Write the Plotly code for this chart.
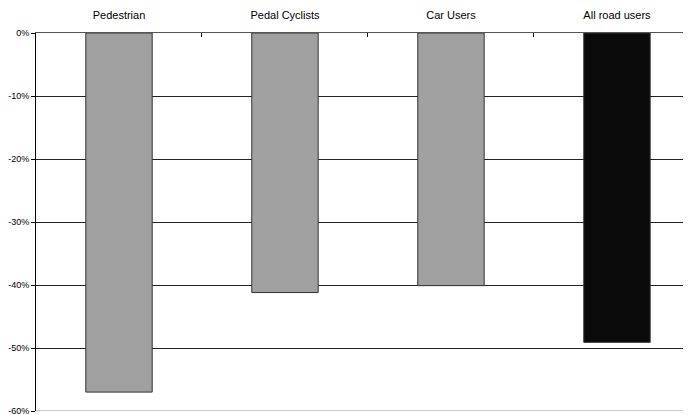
import plotly.graph_objects as go

categories = ["Pedestrian", "Pedal Cyclists", "Car Users", "All road users"]
values = [-57, -41.2, -40.1, -49.1]
bar_colors = ["#a0a0a0", "#a0a0a0", "#a0a0a0", "#0a0a0a"]
tick_vals = [0, -10, -20, -30, -40, -50, -60]
tick_text = ["0%", "-10%", "-20%", "-30%", "-40%", "-50%", "-60%"]

fig = go.Figure()
fig.add_trace(go.Bar(
    x=categories, y=values, width=0.4,
    marker=dict(color=bar_colors, line=dict(color="#333333", width=1)),
    cliponaxis=False,
))

# bottom gridline at the lower edge of the axis
fig.add_hline(y=tick_vals[-1], line=dict(color="#999999", width=1), layer="below")

# page body has an 8px default margin, so figure is sized/offset accordingly
fig.update_layout(
    width=683, height=407,
    margin=dict(l=28, r=0, t=25, b=4, autoexpand=False),
    paper_bgcolor="white", plot_bgcolor="white",
    showlegend=False,
    font=dict(family="Liberation Sans, Arial, sans-serif", color="#000000"),
)
fig.update_xaxes(
    side="top", type="category", range=[-0.5, 3.446], automargin=False,
    showline=True, linecolor="#555555", linewidth=1,
    ticks="inside", tickson="boundaries", ticklen=4, tickcolor="#000000",
    tickfont=dict(size=11), ticklabelstandoff=9, showgrid=False,
)
fig.update_yaxes(
    range=[-60, 0], tickvals=tick_vals, ticktext=tick_text, automargin=False,
    showline=True, linecolor="#000000", linewidth=1,
    ticks="outside", ticklen=4, tickcolor="#000000",
    tickfont=dict(size=9), ticklabeloverflow="allow",
    showgrid=True, gridcolor="#222222", gridwidth=1,
    zeroline=False,
)

fig.write_html("out.html")
